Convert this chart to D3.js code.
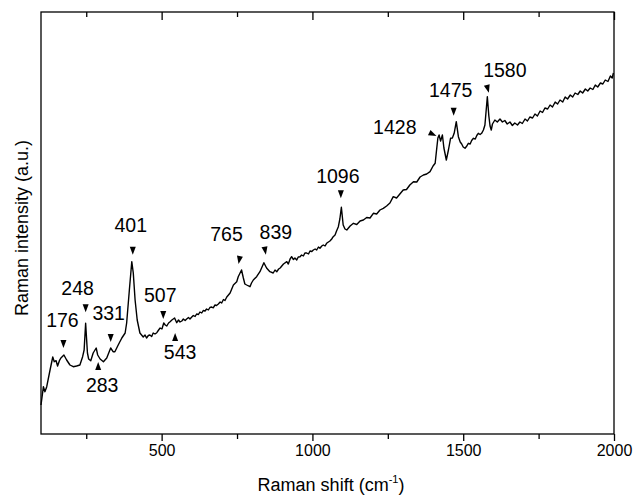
<!DOCTYPE html>
<html>
<head>
<meta charset="utf-8">
<script src="https://cdn.jsdelivr.net/npm/d3@7"></script>
<style>
  body { margin: 0; background: #fff; }
  svg { display: block; font-family: "Liberation Sans", Arial, sans-serif; }
</style>
</head>
<body>
<div id="chart"></div>
<script>
// Raman spectrum (shift in cm-1, intensity in a.u.)
var shift = [100, 108, 113, 119, 130, 139, 144, 150, 155, 161, 166, 176, 185, 196, 207, 218, 229, 238, 243, 248,
    254, 258, 265, 273, 283, 288, 296, 307, 318, 331, 339, 345, 356, 368, 379, 384, 393, 401, 406, 412,
    419, 428, 439, 445, 450, 456, 461, 467, 472, 478, 484, 490, 495, 501, 507, 512, 517, 523, 528, 534, 543,
    550, 556, 561, 567, 572, 578, 583, 589, 594, 600, 605, 611, 616, 622, 627, 633, 638, 644, 649, 655,
    660, 666, 671, 677, 682, 688, 694, 699, 705, 710, 716, 727, 738, 749, 754, 765, 771, 776, 782, 793,
    798, 804, 815, 826, 839, 848, 859, 870, 876, 882, 888, 893, 904, 915, 920, 926, 931, 937, 942, 948,
    953, 959, 964, 970, 975, 981, 987, 992, 998, 1003, 1009, 1014, 1020, 1025, 1031, 1036, 1042, 1047, 1053, 1058,
    1064, 1069, 1075, 1080, 1086, 1091, 1096, 1102, 1108, 1114, 1125, 1136, 1147, 1158, 1169, 1180, 1191, 1202, 1213, 1224,
    1235, 1246, 1257, 1268, 1279, 1290, 1301, 1312, 1323, 1335, 1346, 1357, 1368, 1379, 1390, 1400, 1407, 1412, 1416, 1420,
    1425, 1431, 1436, 1444, 1451, 1458, 1464, 1470, 1477, 1484, 1490, 1495, 1500, 1506, 1512, 1517, 1523, 1528, 1534, 1540,
    1545, 1550, 1556, 1561, 1567, 1572, 1580, 1585, 1589, 1593, 1597, 1605, 1613, 1622, 1630, 1638, 1646, 1655, 1663, 1671,
    1680, 1688, 1696, 1705, 1713, 1721, 1730, 1738, 1746, 1755, 1763, 1771, 1780, 1788, 1796, 1805, 1813, 1821, 1830, 1838,
    1846, 1855, 1863, 1871, 1880, 1888, 1896, 1905, 1913, 1921, 1930, 1938, 1946, 1955, 1963, 1971, 1980, 1988, 1994, 1998];
var intensity = [290, 473, 423, 473, 640, 770, 723, 733, 680, 733, 760, 790, 740, 690, 673, 680, 690, 773, 840, 1107,
    810, 750, 733, 810, 860, 790, 750, 723, 760, 860, 823, 823, 890, 960, 1010, 1110, 1440, 1723, 1610, 1340,
    1140, 1010, 970, 990, 960, 985, 990, 975, 1010, 1000, 1013, 1040, 1060, 1050, 1110, 1090, 1080, 1110, 1123, 1140, 1160,
    1113, 1140, 1120, 1130, 1150, 1135, 1150, 1165, 1150, 1170, 1185, 1175, 1200, 1195, 1220, 1210, 1235, 1230, 1250, 1240,
    1265, 1270, 1262, 1290, 1285, 1300, 1320, 1310, 1345, 1335, 1370, 1410, 1490, 1523, 1573, 1640, 1560, 1500, 1490, 1473,
    1510, 1540, 1573, 1623, 1713, 1660, 1623, 1610, 1640, 1623, 1650, 1660, 1700, 1723, 1700, 1750, 1773, 1745, 1760, 1740,
    1770, 1773, 1790, 1780, 1810, 1810, 1800, 1830, 1825, 1840, 1850, 1840, 1870, 1857, 1880, 1890, 1880, 1907, 1920, 1930,
    1950, 1973, 1990, 2030, 2073, 2150, 2267, 2090, 2050, 2040, 2080, 2107, 2095, 2130, 2140, 2165, 2160, 2207, 2200, 2240,
    2257, 2280, 2310, 2373, 2360, 2400, 2440, 2445, 2490, 2523, 2520, 2570, 2590, 2600, 2623, 2680, 2707, 2850, 2960, 2990,
    2930, 2990, 2860, 2740, 2840, 2957, 2960, 3007, 3123, 2973, 2920, 2900, 2870, 2857, 2880, 2907, 2900, 2935, 2957, 2950,
    2985, 3007, 2995, 3007, 3040, 3090, 3373, 3180, 3080, 3040, 3100, 3140, 3120, 3150, 3120, 3135, 3100, 3120, 3085, 3110,
    3090, 3120, 3105, 3150, 3130, 3170, 3160, 3200, 3180, 3230, 3215, 3260, 3250, 3290, 3270, 3320, 3300, 3340, 3320, 3370,
    3350, 3390, 3370, 3410, 3395, 3430, 3410, 3450, 3430, 3460, 3445, 3490, 3470, 3510, 3500, 3540, 3525, 3580, 3560, 3610];

var peaks = [176, 248, 283, 331, 401, 507, 543, 765, 839, 1096, 1428, 1475, 1580];
var xTicks = [500, 1000, 1500, 2000];
var xMinorTicks = [250, 750, 1250, 1750];

var W = 634, H = 497;
var m = { top: 12, right: 20, bottom: 63, left: 41 };

var x = d3.scaleLinear().domain([100, 2000]).range([m.left, W - m.right]);
var y = d3.scaleLinear().domain([0, 4220]).range([H - m.bottom, m.top]);

var svg = d3.select("#chart").append("svg").attr("width", W).attr("height", H);

var pts = shift.map(function (s, i) { return [s, intensity[i]]; });

svg.append("path")
    .datum(pts)
    .attr("fill", "none")
    .attr("stroke", "#000")
    .attr("stroke-width", 1.4)
    .attr("stroke-linejoin", "round")
    .attr("d", d3.line().x(function (d) { return x(d[0]); }).y(function (d) { return y(d[1]); }));

// frame
svg.append("rect")
    .attr("x", m.left).attr("y", m.top)
    .attr("width", W - m.left - m.right).attr("height", H - m.top - m.bottom)
    .attr("fill", "none").attr("stroke", "#000").attr("stroke-width", 1.3);

var gB = svg.append("g").attr("transform", "translate(0," + (H - m.bottom) + ")")
    .call(d3.axisBottom(x).tickValues(xTicks).tickSize(7).tickPadding(4).tickFormat(d3.format("d")));
svg.append("g").attr("transform", "translate(0," + (H - m.bottom) + ")")
    .call(d3.axisBottom(x).tickValues(xMinorTicks).tickSize(5).tickFormat(""));
svg.append("g").attr("transform", "translate(0," + m.top + ")")
    .call(d3.axisTop(x).tickValues(xTicks).tickSize(-8).tickFormat(""));
svg.append("g").attr("transform", "translate(0," + m.top + ")")
    .call(d3.axisTop(x).tickValues(xMinorTicks).tickSize(-5).tickFormat(""));

svg.selectAll(".domain").remove();
svg.selectAll(".tick line").attr("stroke", "#000").attr("stroke-width", 1.3);
gB.selectAll(".tick text").attr("font-size", 16).attr("fill", "#000")
    .attr("font-family", "'Liberation Sans', Arial, sans-serif");

// axis titles
var xt = svg.append("text")
    .attr("x", 331).attr("y", 491)
    .attr("text-anchor", "middle").attr("font-size", 18)
    .text("Raman shift (cm");
xt.append("tspan").attr("font-size", 11).attr("dy", -8).text("-1");
xt.append("tspan").attr("dy", 8).text(")");

svg.append("text")
    .attr("transform", "translate(28," + 228 + ") rotate(-90)")
    .attr("text-anchor", "middle").attr("font-size", 18)
    .text("Raman intensity (a.u.)");

// peak labels: arrow tip offset from the peak, label offset from the tip, arrow direction
var layout = {
    176: { tip: [-0.5, -7], lab: [-1, -21], rot: 0 },
    248: { tip: [0, -11], lab: [-8, -17], rot: 0 },
    283: { tip: [2, 14], lab: [4, 30], rot: 180 },
    331: { tip: [0, -6], lab: [-2, -22], rot: 0 },
    401: { tip: [1, -7], lab: [-2, -23], rot: 0 },
    507: { tip: [-0.5, -4], lab: [-3, -17], rot: 0 },
    543: { tip: [0.5, 15], lab: [5, 26], rot: 180 },
    765: { tip: [-3, -6], lab: [-12, -23], rot: 10 },
    839: { tip: [2, -8], lab: [10, -16], rot: -10 },
    1096: { tip: [-0.5, -9], lab: [-3, -15], rot: 0 },
    1428: { tip: [-5, -5], lab: [-20, -2], rot: -65 },
    1475: { tip: [-2, -6], lab: [-3, -19], rot: 0 },
    1580: { tip: [1.5, -4], lab: [16, -16], rot: -15 }
};

function peakValue(p) {
    var i = d3.leastIndex(shift, function (a, b) { return Math.abs(a - p) - Math.abs(b - p); });
    return intensity[i];
}

var ann = svg.append("g").attr("font-size", 19.5).attr("fill", "#000");
peaks.forEach(function (p) {
    var L = layout[p];
    var tx = x(p) + L.tip[0], ty = y(peakValue(p)) + L.tip[1];
    ann.append("path")
        .attr("d", "M0,0L-3,-8L3,-8Z")
        .attr("transform", "translate(" + tx + "," + ty + ") rotate(" + L.rot + ")")
        .attr("fill", "#000");
    ann.append("text")
        .attr("x", tx + L.lab[0]).attr("y", ty + L.lab[1])
        .attr("text-anchor", p === 1428 ? "end" : "middle")
        .text(p);
});
</script>
</body>
</html>
